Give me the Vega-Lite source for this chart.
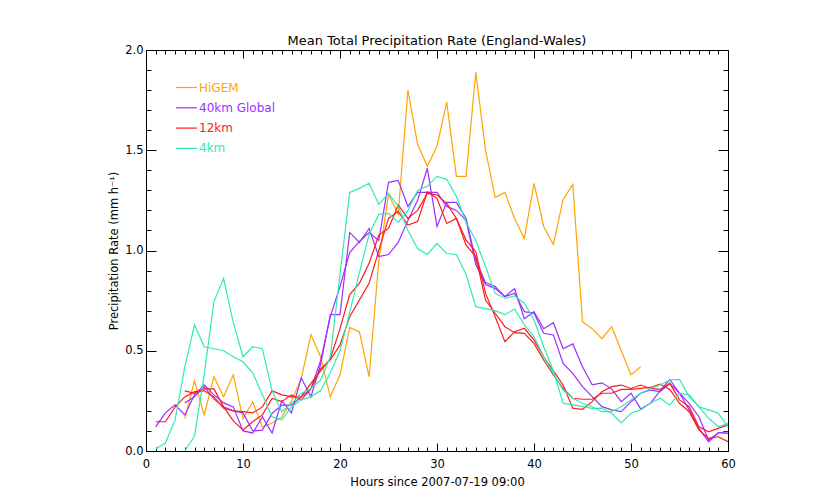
{
"$schema":"https://vega.github.io/schema/vega-lite/v6.json",
"width":582,"height":401,
"autosize":{"type":"none"},
"padding":{"left":146,"top":50,"right":112,"bottom":53},
"background":"white",
"title":{"text":"Mean Total Precipitation Rate (England-Wales)","fontSize":13,"font":"DejaVu Sans","fontWeight":"normal","color":"#000","offset":-4},
"config":{"view":{"stroke":"#000","strokeWidth":1},"font":"DejaVu Sans"},
"datasets":{"pts":[
{"model":"HiGEM","run":"a","hour":4,"rate":0.16},{"model":"HiGEM","run":"a","hour":5,"rate":0.35},{"model":"HiGEM","run":"a","hour":6,"rate":0.18},{"model":"HiGEM","run":"a","hour":7,"rate":0.37},{"model":"HiGEM","run":"a","hour":8,"rate":0.27},{"model":"HiGEM","run":"a","hour":9,"rate":0.38},{"model":"HiGEM","run":"a","hour":10,"rate":0.16},{"model":"HiGEM","run":"a","hour":11,"rate":0.245},{"model":"HiGEM","run":"a","hour":12,"rate":0.12},{"model":"HiGEM","run":"a","hour":13,"rate":0.14},{"model":"HiGEM","run":"a","hour":14,"rate":0.17},{"model":"HiGEM","run":"a","hour":15,"rate":0.25},{"model":"HiGEM","run":"a","hour":16,"rate":0.36},{"model":"HiGEM","run":"a","hour":17,"rate":0.58},{"model":"HiGEM","run":"a","hour":18,"rate":0.47},{"model":"HiGEM","run":"a","hour":19,"rate":0.27},{"model":"HiGEM","run":"a","hour":20,"rate":0.38},{"model":"HiGEM","run":"a","hour":21,"rate":0.615},{"model":"HiGEM","run":"a","hour":22,"rate":0.595},{"model":"HiGEM","run":"a","hour":23,"rate":0.37},{"model":"HiGEM","run":"a","hour":24,"rate":0.95},{"model":"HiGEM","run":"a","hour":25,"rate":1.28},{"model":"HiGEM","run":"a","hour":26,"rate":1.18},{"model":"HiGEM","run":"a","hour":27,"rate":1.8},{"model":"HiGEM","run":"a","hour":28,"rate":1.53},{"model":"HiGEM","run":"a","hour":29,"rate":1.42},{"model":"HiGEM","run":"a","hour":30,"rate":1.52},{"model":"HiGEM","run":"a","hour":31,"rate":1.74},{"model":"HiGEM","run":"a","hour":32,"rate":1.37},{"model":"HiGEM","run":"a","hour":33,"rate":1.37},{"model":"HiGEM","run":"a","hour":34,"rate":1.89},{"model":"HiGEM","run":"a","hour":35,"rate":1.5},{"model":"HiGEM","run":"a","hour":36,"rate":1.265},{"model":"HiGEM","run":"a","hour":37,"rate":1.29},{"model":"HiGEM","run":"a","hour":38,"rate":1.16},{"model":"HiGEM","run":"a","hour":39,"rate":1.06},{"model":"HiGEM","run":"a","hour":40,"rate":1.335},{"model":"HiGEM","run":"a","hour":41,"rate":1.12},{"model":"HiGEM","run":"a","hour":42,"rate":1.03},{"model":"HiGEM","run":"a","hour":43,"rate":1.255},{"model":"HiGEM","run":"a","hour":44,"rate":1.33},{"model":"HiGEM","run":"a","hour":45,"rate":0.645},{"model":"HiGEM","run":"a","hour":46,"rate":0.61},{"model":"HiGEM","run":"a","hour":47,"rate":0.56},{"model":"HiGEM","run":"a","hour":48,"rate":0.62},{"model":"HiGEM","run":"a","hour":49,"rate":0.5},{"model":"HiGEM","run":"a","hour":50,"rate":0.38},{"model":"HiGEM","run":"a","hour":51,"rate":0.42},
{"model":"40km Global","run":"a","hour":1,"rate":0.12},{"model":"40km Global","run":"a","hour":2,"rate":0.19},{"model":"40km Global","run":"a","hour":3,"rate":0.23},{"model":"40km Global","run":"a","hour":4,"rate":0.18},{"model":"40km Global","run":"a","hour":5,"rate":0.28},{"model":"40km Global","run":"a","hour":6,"rate":0.33},{"model":"40km Global","run":"a","hour":7,"rate":0.28},{"model":"40km Global","run":"a","hour":8,"rate":0.24},{"model":"40km Global","run":"a","hour":9,"rate":0.22},{"model":"40km Global","run":"a","hour":10,"rate":0.1},{"model":"40km Global","run":"a","hour":11,"rate":0.09},{"model":"40km Global","run":"a","hour":12,"rate":0.17},{"model":"40km Global","run":"a","hour":13,"rate":0.09},{"model":"40km Global","run":"a","hour":14,"rate":0.25},{"model":"40km Global","run":"a","hour":15,"rate":0.19},{"model":"40km Global","run":"a","hour":16,"rate":0.365},{"model":"40km Global","run":"a","hour":17,"rate":0.27},{"model":"40km Global","run":"a","hour":18,"rate":0.43},{"model":"40km Global","run":"a","hour":19,"rate":0.68},{"model":"40km Global","run":"a","hour":20,"rate":0.68},{"model":"40km Global","run":"a","hour":21,"rate":1.09},{"model":"40km Global","run":"a","hour":22,"rate":1.04},{"model":"40km Global","run":"a","hour":23,"rate":1.11},{"model":"40km Global","run":"a","hour":24,"rate":0.97},{"model":"40km Global","run":"a","hour":25,"rate":0.98},{"model":"40km Global","run":"a","hour":26,"rate":1.04},{"model":"40km Global","run":"a","hour":27,"rate":1.15},{"model":"40km Global","run":"a","hour":28,"rate":1.25},{"model":"40km Global","run":"a","hour":29,"rate":1.41},{"model":"40km Global","run":"a","hour":30,"rate":1.12},{"model":"40km Global","run":"a","hour":31,"rate":1.24},{"model":"40km Global","run":"a","hour":32,"rate":1.24},{"model":"40km Global","run":"a","hour":33,"rate":1.16},{"model":"40km Global","run":"a","hour":34,"rate":0.95},{"model":"40km Global","run":"a","hour":35,"rate":0.84},{"model":"40km Global","run":"a","hour":36,"rate":0.82},{"model":"40km Global","run":"a","hour":37,"rate":0.77},{"model":"40km Global","run":"a","hour":38,"rate":0.81},{"model":"40km Global","run":"a","hour":39,"rate":0.66},{"model":"40km Global","run":"a","hour":40,"rate":0.695},{"model":"40km Global","run":"a","hour":41,"rate":0.61},{"model":"40km Global","run":"a","hour":42,"rate":0.64},{"model":"40km Global","run":"a","hour":43,"rate":0.51},{"model":"40km Global","run":"a","hour":44,"rate":0.534},{"model":"40km Global","run":"a","hour":45,"rate":0.42},{"model":"40km Global","run":"a","hour":46,"rate":0.33},{"model":"40km Global","run":"a","hour":47,"rate":0.34},{"model":"40km Global","run":"a","hour":48,"rate":0.31},{"model":"40km Global","run":"a","hour":49,"rate":0.246},{"model":"40km Global","run":"a","hour":50,"rate":0.288},{"model":"40km Global","run":"a","hour":51,"rate":0.21},{"model":"40km Global","run":"a","hour":52,"rate":0.238},{"model":"40km Global","run":"a","hour":53,"rate":0.3},{"model":"40km Global","run":"a","hour":54,"rate":0.357},{"model":"40km Global","run":"a","hour":55,"rate":0.288},{"model":"40km Global","run":"a","hour":56,"rate":0.205},{"model":"40km Global","run":"a","hour":57,"rate":0.113},{"model":"40km Global","run":"a","hour":58,"rate":0.046},{"model":"40km Global","run":"a","hour":59,"rate":0.091},{"model":"40km Global","run":"a","hour":60,"rate":0.096},
{"model":"40km Global","run":"b","hour":4,"rate":0.24},{"model":"40km Global","run":"b","hour":5,"rate":0.27},{"model":"40km Global","run":"b","hour":6,"rate":0.32},{"model":"40km Global","run":"b","hour":7,"rate":0.26},{"model":"40km Global","run":"b","hour":8,"rate":0.22},{"model":"40km Global","run":"b","hour":9,"rate":0.2},{"model":"40km Global","run":"b","hour":10,"rate":0.19},{"model":"40km Global","run":"b","hour":11,"rate":0.1},{"model":"40km Global","run":"b","hour":12,"rate":0.104},{"model":"40km Global","run":"b","hour":13,"rate":0.187},{"model":"40km Global","run":"b","hour":14,"rate":0.229},{"model":"40km Global","run":"b","hour":15,"rate":0.229},{"model":"40km Global","run":"b","hour":16,"rate":0.27},{"model":"40km Global","run":"b","hour":17,"rate":0.31},{"model":"40km Global","run":"b","hour":18,"rate":0.45},{"model":"40km Global","run":"b","hour":19,"rate":0.67},{"model":"40km Global","run":"b","hour":20,"rate":0.82},{"model":"40km Global","run":"b","hour":21,"rate":0.99},{"model":"40km Global","run":"b","hour":22,"rate":1.045},{"model":"40km Global","run":"b","hour":23,"rate":1.09},{"model":"40km Global","run":"b","hour":24,"rate":1.05},{"model":"40km Global","run":"b","hour":25,"rate":1.34},{"model":"40km Global","run":"b","hour":26,"rate":1.35},{"model":"40km Global","run":"b","hour":27,"rate":1.22},{"model":"40km Global","run":"b","hour":28,"rate":1.29},{"model":"40km Global","run":"b","hour":29,"rate":1.29},{"model":"40km Global","run":"b","hour":30,"rate":1.29},{"model":"40km Global","run":"b","hour":31,"rate":1.22},{"model":"40km Global","run":"b","hour":32,"rate":1.2},{"model":"40km Global","run":"b","hour":33,"rate":1.15},{"model":"40km Global","run":"b","hour":34,"rate":0.93},{"model":"40km Global","run":"b","hour":35,"rate":0.83},{"model":"40km Global","run":"b","hour":36,"rate":0.81},{"model":"40km Global","run":"b","hour":37,"rate":0.77},{"model":"40km Global","run":"b","hour":38,"rate":0.787},{"model":"40km Global","run":"b","hour":39,"rate":0.695},{"model":"40km Global","run":"b","hour":40,"rate":0.687},{"model":"40km Global","run":"b","hour":41,"rate":0.587},{"model":"40km Global","run":"b","hour":42,"rate":0.579},{"model":"40km Global","run":"b","hour":43,"rate":0.437},{"model":"40km Global","run":"b","hour":44,"rate":0.387},{"model":"40km Global","run":"b","hour":45,"rate":0.321},{"model":"40km Global","run":"b","hour":46,"rate":0.271},{"model":"40km Global","run":"b","hour":47,"rate":0.221},{"model":"40km Global","run":"b","hour":48,"rate":0.205},{"model":"40km Global","run":"b","hour":49,"rate":0.196},{"model":"40km Global","run":"b","hour":50,"rate":0.246},{"model":"40km Global","run":"b","hour":51,"rate":0.288},{"model":"40km Global","run":"b","hour":52,"rate":0.304},{"model":"40km Global","run":"b","hour":53,"rate":0.296},{"model":"40km Global","run":"b","hour":54,"rate":0.337},{"model":"40km Global","run":"b","hour":55,"rate":0.288},{"model":"40km Global","run":"b","hour":56,"rate":0.238},{"model":"40km Global","run":"b","hour":57,"rate":0.171},{"model":"40km Global","run":"b","hour":58,"rate":0.055},{"model":"40km Global","run":"b","hour":59,"rate":0.091},{"model":"40km Global","run":"b","hour":60,"rate":0.088},
{"model":"12km","run":"a","hour":1,"rate":0.146},{"model":"12km","run":"a","hour":2,"rate":0.146},{"model":"12km","run":"a","hour":3,"rate":0.22},{"model":"12km","run":"a","hour":4,"rate":0.27},{"model":"12km","run":"a","hour":5,"rate":0.296},{"model":"12km","run":"a","hour":6,"rate":0.3},{"model":"12km","run":"a","hour":7,"rate":0.27},{"model":"12km","run":"a","hour":8,"rate":0.213},{"model":"12km","run":"a","hour":9,"rate":0.2},{"model":"12km","run":"a","hour":10,"rate":0.196},{"model":"12km","run":"a","hour":11,"rate":0.19},{"model":"12km","run":"a","hour":12,"rate":0.22},{"model":"12km","run":"a","hour":13,"rate":0.3},{"model":"12km","run":"a","hour":14,"rate":0.28},{"model":"12km","run":"a","hour":15,"rate":0.27},{"model":"12km","run":"a","hour":16,"rate":0.27},{"model":"12km","run":"a","hour":17,"rate":0.337},{"model":"12km","run":"a","hour":18,"rate":0.4},{"model":"12km","run":"a","hour":19,"rate":0.46},{"model":"12km","run":"a","hour":20,"rate":0.61},{"model":"12km","run":"a","hour":21,"rate":0.78},{"model":"12km","run":"a","hour":22,"rate":0.836},{"model":"12km","run":"a","hour":23,"rate":0.936},{"model":"12km","run":"a","hour":24,"rate":1.077},{"model":"12km","run":"a","hour":25,"rate":1.11},{"model":"12km","run":"a","hour":26,"rate":1.227},{"model":"12km","run":"a","hour":27,"rate":1.16},{"model":"12km","run":"a","hour":28,"rate":1.2},{"model":"12km","run":"a","hour":29,"rate":1.285},{"model":"12km","run":"a","hour":30,"rate":1.277},{"model":"12km","run":"a","hour":31,"rate":1.235},{"model":"12km","run":"a","hour":32,"rate":1.16},{"model":"12km","run":"a","hour":33,"rate":1.052},{"model":"12km","run":"a","hour":34,"rate":0.994},{"model":"12km","run":"a","hour":35,"rate":0.786},{"model":"12km","run":"a","hour":36,"rate":0.67},{"model":"12km","run":"a","hour":37,"rate":0.545},{"model":"12km","run":"a","hour":38,"rate":0.595},{"model":"12km","run":"a","hour":39,"rate":0.612},{"model":"12km","run":"a","hour":40,"rate":0.554},{"model":"12km","run":"a","hour":41,"rate":0.47},{"model":"12km","run":"a","hour":42,"rate":0.4},{"model":"12km","run":"a","hour":43,"rate":0.329},{"model":"12km","run":"a","hour":44,"rate":0.213},{"model":"12km","run":"a","hour":45,"rate":0.208},{"model":"12km","run":"a","hour":46,"rate":0.246},{"model":"12km","run":"a","hour":47,"rate":0.296},{"model":"12km","run":"a","hour":48,"rate":0.321},{"model":"12km","run":"a","hour":49,"rate":0.329},{"model":"12km","run":"a","hour":50,"rate":0.312},{"model":"12km","run":"a","hour":51,"rate":0.329},{"model":"12km","run":"a","hour":52,"rate":0.312},{"model":"12km","run":"a","hour":53,"rate":0.307},{"model":"12km","run":"a","hour":54,"rate":0.337},{"model":"12km","run":"a","hour":55,"rate":0.255},{"model":"12km","run":"a","hour":56,"rate":0.221},{"model":"12km","run":"a","hour":57,"rate":0.121},{"model":"12km","run":"a","hour":58,"rate":0.096},{"model":"12km","run":"a","hour":59,"rate":0.113},{"model":"12km","run":"a","hour":60,"rate":0.13},
{"model":"12km","run":"b","hour":4,"rate":0.3},{"model":"12km","run":"b","hour":5,"rate":0.288},{"model":"12km","run":"b","hour":6,"rate":0.31},{"model":"12km","run":"b","hour":7,"rate":0.31},{"model":"12km","run":"b","hour":8,"rate":0.22},{"model":"12km","run":"b","hour":9,"rate":0.15},{"model":"12km","run":"b","hour":10,"rate":0.105},{"model":"12km","run":"b","hour":11,"rate":0.146},{"model":"12km","run":"b","hour":12,"rate":0.18},{"model":"12km","run":"b","hour":13,"rate":0.262},{"model":"12km","run":"b","hour":14,"rate":0.246},{"model":"12km","run":"b","hour":15,"rate":0.28},{"model":"12km","run":"b","hour":16,"rate":0.255},{"model":"12km","run":"b","hour":17,"rate":0.31},{"model":"12km","run":"b","hour":18,"rate":0.41},{"model":"12km","run":"b","hour":19,"rate":0.454},{"model":"12km","run":"b","hour":20,"rate":0.529},{"model":"12km","run":"b","hour":21,"rate":0.67},{"model":"12km","run":"b","hour":22,"rate":0.753},{"model":"12km","run":"b","hour":23,"rate":0.836},{"model":"12km","run":"b","hour":24,"rate":1.0},{"model":"12km","run":"b","hour":25,"rate":1.16},{"model":"12km","run":"b","hour":26,"rate":1.194},{"model":"12km","run":"b","hour":27,"rate":1.127},{"model":"12km","run":"b","hour":28,"rate":1.144},{"model":"12km","run":"b","hour":29,"rate":1.293},{"model":"12km","run":"b","hour":30,"rate":1.26},{"model":"12km","run":"b","hour":31,"rate":1.135},{"model":"12km","run":"b","hour":32,"rate":1.16},{"model":"12km","run":"b","hour":33,"rate":1.027},{"model":"12km","run":"b","hour":34,"rate":0.969},{"model":"12km","run":"b","hour":35,"rate":0.753},{"model":"12km","run":"b","hour":36,"rate":0.687},{"model":"12km","run":"b","hour":37,"rate":0.62},{"model":"12km","run":"b","hour":38,"rate":0.59},{"model":"12km","run":"b","hour":39,"rate":0.587},{"model":"12km","run":"b","hour":40,"rate":0.537},{"model":"12km","run":"b","hour":41,"rate":0.454},{"model":"12km","run":"b","hour":42,"rate":0.379},{"model":"12km","run":"b","hour":43,"rate":0.312},{"model":"12km","run":"b","hour":44,"rate":0.263},{"model":"12km","run":"b","hour":45,"rate":0.258},{"model":"12km","run":"b","hour":46,"rate":0.258},{"model":"12km","run":"b","hour":47,"rate":0.288},{"model":"12km","run":"b","hour":48,"rate":0.288},{"model":"12km","run":"b","hour":49,"rate":0.307},{"model":"12km","run":"b","hour":50,"rate":0.307},{"model":"12km","run":"b","hour":51,"rate":0.312},{"model":"12km","run":"b","hour":52,"rate":0.317},{"model":"12km","run":"b","hour":53,"rate":0.334},{"model":"12km","run":"b","hour":54,"rate":0.307},{"model":"12km","run":"b","hour":55,"rate":0.238},{"model":"12km","run":"b","hour":56,"rate":0.196},{"model":"12km","run":"b","hour":57,"rate":0.105},{"model":"12km","run":"b","hour":58,"rate":0.063},{"model":"12km","run":"b","hour":59,"rate":0.071},{"model":"12km","run":"b","hour":60,"rate":0.046},
{"model":"4km","run":"a","hour":1,"rate":0.01},{"model":"4km","run":"a","hour":2,"rate":0.04},{"model":"4km","run":"a","hour":3,"rate":0.155},{"model":"4km","run":"a","hour":4,"rate":0.42},{"model":"4km","run":"a","hour":5,"rate":0.63},{"model":"4km","run":"a","hour":6,"rate":0.52},{"model":"4km","run":"a","hour":7,"rate":0.51},{"model":"4km","run":"a","hour":8,"rate":0.5},{"model":"4km","run":"a","hour":9,"rate":0.47},{"model":"4km","run":"a","hour":10,"rate":0.445},{"model":"4km","run":"a","hour":11,"rate":0.39},{"model":"4km","run":"a","hour":12,"rate":0.28},{"model":"4km","run":"a","hour":13,"rate":0.17},{"model":"4km","run":"a","hour":14,"rate":0.155},{"model":"4km","run":"a","hour":15,"rate":0.22},{"model":"4km","run":"a","hour":16,"rate":0.255},{"model":"4km","run":"a","hour":17,"rate":0.27},{"model":"4km","run":"a","hour":18,"rate":0.3},{"model":"4km","run":"a","hour":19,"rate":0.39},{"model":"4km","run":"a","hour":20,"rate":0.5},{"model":"4km","run":"a","hour":21,"rate":0.69},{"model":"4km","run":"a","hour":22,"rate":0.89},{"model":"4km","run":"a","hour":23,"rate":1.08},{"model":"4km","run":"a","hour":24,"rate":1.18},{"model":"4km","run":"a","hour":25,"rate":1.185},{"model":"4km","run":"a","hour":26,"rate":1.14},{"model":"4km","run":"a","hour":27,"rate":1.2},{"model":"4km","run":"a","hour":28,"rate":1.3},{"model":"4km","run":"a","hour":29,"rate":1.32},{"model":"4km","run":"a","hour":30,"rate":1.37},{"model":"4km","run":"a","hour":31,"rate":1.355},{"model":"4km","run":"a","hour":32,"rate":1.27},{"model":"4km","run":"a","hour":33,"rate":1.14},{"model":"4km","run":"a","hour":34,"rate":1.05},{"model":"4km","run":"a","hour":35,"rate":0.92},{"model":"4km","run":"a","hour":36,"rate":0.786},{"model":"4km","run":"a","hour":37,"rate":0.762},{"model":"4km","run":"a","hour":38,"rate":0.773},{"model":"4km","run":"a","hour":39,"rate":0.737},{"model":"4km","run":"a","hour":40,"rate":0.654},{"model":"4km","run":"a","hour":41,"rate":0.52},{"model":"4km","run":"a","hour":42,"rate":0.4},{"model":"4km","run":"a","hour":43,"rate":0.238},{"model":"4km","run":"a","hour":44,"rate":0.23},{"model":"4km","run":"a","hour":45,"rate":0.221},{"model":"4km","run":"a","hour":46,"rate":0.213},{"model":"4km","run":"a","hour":47,"rate":0.213},{"model":"4km","run":"a","hour":48,"rate":0.188},{"model":"4km","run":"a","hour":49,"rate":0.14},{"model":"4km","run":"a","hour":50,"rate":0.188},{"model":"4km","run":"a","hour":51,"rate":0.205},{"model":"4km","run":"a","hour":52,"rate":0.238},{"model":"4km","run":"a","hour":53,"rate":0.263},{"model":"4km","run":"a","hour":54,"rate":0.23},{"model":"4km","run":"a","hour":55,"rate":0.288},{"model":"4km","run":"a","hour":56,"rate":0.28},{"model":"4km","run":"a","hour":57,"rate":0.22},{"model":"4km","run":"a","hour":58,"rate":0.205},{"model":"4km","run":"a","hour":59,"rate":0.188},{"model":"4km","run":"a","hour":60,"rate":0.121},
{"model":"4km","run":"b","hour":4,"rate":0.0},{"model":"4km","run":"b","hour":5,"rate":0.075},{"model":"4km","run":"b","hour":6,"rate":0.38},{"model":"4km","run":"b","hour":7,"rate":0.745},{"model":"4km","run":"b","hour":8,"rate":0.86},{"model":"4km","run":"b","hour":9,"rate":0.64},{"model":"4km","run":"b","hour":10,"rate":0.47},{"model":"4km","run":"b","hour":11,"rate":0.52},{"model":"4km","run":"b","hour":12,"rate":0.51},{"model":"4km","run":"b","hour":13,"rate":0.3},{"model":"4km","run":"b","hour":14,"rate":0.196},{"model":"4km","run":"b","hour":15,"rate":0.237},{"model":"4km","run":"b","hour":16,"rate":0.287},{"model":"4km","run":"b","hour":17,"rate":0.312},{"model":"4km","run":"b","hour":18,"rate":0.354},{"model":"4km","run":"b","hour":19,"rate":0.47},{"model":"4km","run":"b","hour":20,"rate":0.88},{"model":"4km","run":"b","hour":21,"rate":1.29},{"model":"4km","run":"b","hour":22,"rate":1.31},{"model":"4km","run":"b","hour":23,"rate":1.335},{"model":"4km","run":"b","hour":24,"rate":1.23},{"model":"4km","run":"b","hour":25,"rate":1.285},{"model":"4km","run":"b","hour":26,"rate":1.22},{"model":"4km","run":"b","hour":27,"rate":1.1},{"model":"4km","run":"b","hour":28,"rate":1.01},{"model":"4km","run":"b","hour":29,"rate":0.98},{"model":"4km","run":"b","hour":30,"rate":1.035},{"model":"4km","run":"b","hour":31,"rate":0.985},{"model":"4km","run":"b","hour":32,"rate":0.98},{"model":"4km","run":"b","hour":33,"rate":0.88},{"model":"4km","run":"b","hour":34,"rate":0.72},{"model":"4km","run":"b","hour":35,"rate":0.71},{"model":"4km","run":"b","hour":36,"rate":0.7},{"model":"4km","run":"b","hour":37,"rate":0.68},{"model":"4km","run":"b","hour":38,"rate":0.708},{"model":"4km","run":"b","hour":39,"rate":0.63},{"model":"4km","run":"b","hour":40,"rate":0.57},{"model":"4km","run":"b","hour":41,"rate":0.47},{"model":"4km","run":"b","hour":42,"rate":0.387},{"model":"4km","run":"b","hour":43,"rate":0.304},{"model":"4km","run":"b","hour":44,"rate":0.263},{"model":"4km","run":"b","hour":45,"rate":0.238},{"model":"4km","run":"b","hour":46,"rate":0.221},{"model":"4km","run":"b","hour":47,"rate":0.196},{"model":"4km","run":"b","hour":48,"rate":0.196},{"model":"4km","run":"b","hour":49,"rate":0.221},{"model":"4km","run":"b","hour":50,"rate":0.255},{"model":"4km","run":"b","hour":51,"rate":0.288},{"model":"4km","run":"b","hour":52,"rate":0.312},{"model":"4km","run":"b","hour":53,"rate":0.329},{"model":"4km","run":"b","hour":54,"rate":0.354},{"model":"4km","run":"b","hour":55,"rate":0.357},{"model":"4km","run":"b","hour":56,"rate":0.271},{"model":"4km","run":"b","hour":57,"rate":0.221},{"model":"4km","run":"b","hour":58,"rate":0.163},{"model":"4km","run":"b","hour":59,"rate":0.121},{"model":"4km","run":"b","hour":60,"rate":0.138}
]},
"data":{"name":"pts"},
"layer":[
{"mark":{"type":"line","strokeWidth":1.2,"clip":true},
 "encoding":{
  "x":{"field":"hour","type":"quantitative","scale":{"domain":[0,60],"nice":false,"zero":false},
   "axis":{"title":"Hours since 2007-07-19 09:00","values":[0,1,2,3,4,5,6,7,8,9,10,11,12,13,14,15,16,17,18,19,20,21,22,23,24,25,26,27,28,29,30,31,32,33,34,35,36,37,38,39,40,41,42,43,44,45,46,47,48,49,50,51,52,53,54,55,56,57,58,59,60],
    "labelExpr":"datum.value % 10 === 0 ? datum.label : ''","tickSize":{"condition":{"test":"datum.value % 10 === 0","value":-8},"value":-4},
    "grid":false,"domainColor":"#000","tickColor":"#000","labelColor":"#000","titleColor":"#000","labelFontSize":11.5,"titleFontSize":11.5,"titleFontWeight":"normal","labelPadding":15,"titlePadding":3,"labelFlush":false,"labelOverlap":false,"labelFont":"DejaVu Sans","titleFont":"DejaVu Sans"}},
  "y":{"field":"rate","type":"quantitative","scale":{"domain":[0,2],"nice":false},
   "axis":{"title":"Precipitation Rate (mm h⁻¹)","values":[0,0.1,0.2,0.3,0.4,0.5,0.6,0.7,0.8,0.9,1.0,1.1,1.2,1.3,1.4,1.5,1.6,1.7,1.8,1.9,2.0],
    "labelExpr":"abs(datum.value*2 - round(datum.value*2)) < 0.000001 ? format(datum.value, '.1f') : ''","tickSize":{"condition":{"test":"abs(datum.value*2 - round(datum.value*2)) < 0.000001","value":-10},"value":-5},
    "grid":false,"domainColor":"#000","tickColor":"#000","labelColor":"#000","titleColor":"#000","labelFontSize":11.5,"titleFontSize":11.5,"titleFontWeight":"normal","labelPadding":13,"titlePadding":5,"labelFlush":false,"labelOverlap":false,"labelFont":"DejaVu Sans","titleFont":"DejaVu Sans"}},
  "color":{"field":"model","type":"nominal","scale":{"domain":["HiGEM","40km Global","12km","4km"],"range":["#FFA500","#9B30FF","#FF1A1A","#2FEBB5"]},
   "legend":{"orient":"none","legendX":29,"legendY":26,"title":null,"symbolType":"stroke","symbolSize":441,"symbolStrokeWidth":1.2,"labelFontSize":12,"labelFont":"DejaVu Sans","rowPadding":2.3,"labelOffset":1,"padding":0,"symbolOffset":0,"labelLimit":200,
    "encode":{"labels":{"update":{"fill":{"scale":"color","field":"value"}}}}}},
  "detail":{"field":"run","type":"nominal"}
 }},
{"mark":{"type":"point","opacity":0},
 "encoding":{
  "x":{"field":"hour","type":"quantitative","axis":{"orient":"top","title":null,"labels":false,"domain":false,"grid":false,"tickColor":"#000","values":[0,1,2,3,4,5,6,7,8,9,10,11,12,13,14,15,16,17,18,19,20,21,22,23,24,25,26,27,28,29,30,31,32,33,34,35,36,37,38,39,40,41,42,43,44,45,46,47,48,49,50,51,52,53,54,55,56,57,58,59,60],"tickSize":{"condition":{"test":"datum.value % 10 === 0","value":-8},"value":-4}}},
  "y":{"field":"rate","type":"quantitative","axis":{"orient":"right","title":null,"labels":false,"domain":false,"grid":false,"tickColor":"#000","values":[0,0.1,0.2,0.3,0.4,0.5,0.6,0.7,0.8,0.9,1.0,1.1,1.2,1.3,1.4,1.5,1.6,1.7,1.8,1.9,2.0],"tickSize":{"condition":{"test":"abs(datum.value*2 - round(datum.value*2)) < 0.000001","value":-10},"value":-5}}}
 }}
],
"resolve":{"axis":{"x":"independent","y":"independent"}}
}
